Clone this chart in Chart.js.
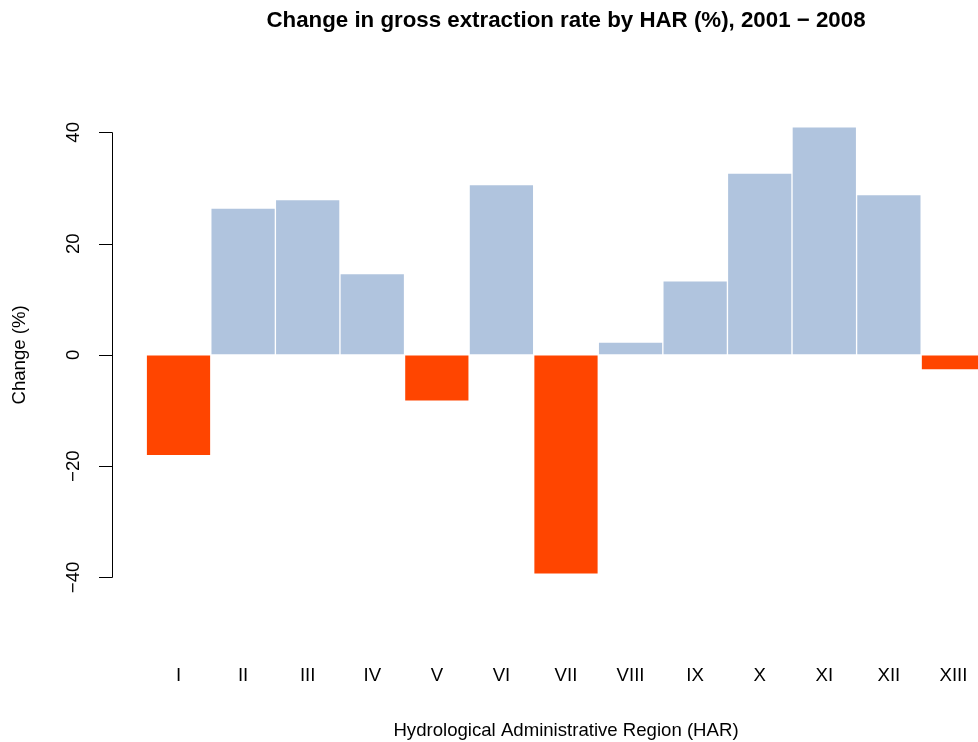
<!DOCTYPE html>
<html>
<head>
<meta charset="utf-8">
<script src="https://cdn.jsdelivr.net/npm/chart.js@4.4.0/dist/chart.umd.min.js"></script>
<style>
  html, body { margin: 0; padding: 0; background: #fff; overflow: hidden; }
  #wrap { width: 978px; height: 742px; }
</style>
</head>
<body>
<div id="wrap"><canvas id="chart" width="978" height="742"></canvas></div>
<script>
// regions and change values
const regions = ['I', 'II', 'III', 'IV', 'V', 'VI', 'VII', 'VIII', 'IX', 'X', 'XI', 'XII', 'XIII'];
const changes = [-18.1, 26.4, 27.9, 14.6, -8.3, 30.6, -39.4, 2.3, 13.3, 32.7, 41.0, 28.8, -2.7];
const yTicks = [-40, -20, 0, 20, 40];
const yTickLabels = ['\u221240', '\u221220', '0', '20', '40'];

const POS = 'lightsteelblue';
const NEG = 'orangered';
const FONT = '"Liberation Sans", Helvetica, Arial, sans-serif';

// draws the R style axes and titles on top of the bars
const rAxes = {
  id: 'rAxes',
  afterDraw(chart) {
    const ctx = chart.ctx;
    const x = chart.scales.x;
    const y = chart.scales.y;
    const axisX = chart.chartArea.left;
    ctx.save();
    ctx.strokeStyle = '#000';
    ctx.fillStyle = '#000';
    ctx.lineWidth = 1;

    // y axis line + ticks
    const yTop = y.getPixelForValue(yTicks[yTicks.length - 1]);
    const yBot = y.getPixelForValue(yTicks[0]);
    ctx.beginPath();
    ctx.moveTo(axisX + 0.5, Math.round(yTop) + 0.5);
    ctx.lineTo(axisX + 0.5, Math.round(yBot) + 0.5);
    yTicks.forEach(v => {
      const py = Math.round(y.getPixelForValue(v)) + 0.5;
      ctx.moveTo(axisX + 0.5, py);
      ctx.lineTo(axisX - 13, py);
    });
    ctx.stroke();

    // y tick labels, rotated like R's las=0
    ctx.font = '18.6px ' + FONT;
    ctx.textAlign = 'center';
    ctx.textBaseline = 'middle';
    yTicks.forEach((v, i) => {
      ctx.save();
      ctx.translate(74, y.getPixelForValue(v));
      ctx.rotate(-Math.PI / 2);
      ctx.fillText(yTickLabels[i], 0, 0);
      ctx.restore();
    });

    // category labels
    regions.forEach((r, i) => {
      ctx.fillText(r, x.getPixelForValue(i), 676);
    });

    // axis titles
    ctx.fillText('Hydrological Administrative Region (HAR)', 566, 731);
    ctx.save();
    ctx.translate(20, y.getPixelForValue(0));
    ctx.rotate(-Math.PI / 2);
    ctx.fillText('Change (%)', 0, 0);
    ctx.restore();

    // main title
    ctx.font = 'bold 22.3px ' + FONT;
    ctx.fillText('Change in gross extraction rate by HAR (%), 2001 \u2212 2008', 566, 21);
    ctx.restore();
  }
};

const ctx = document.getElementById('chart').getContext('2d');
new Chart(ctx, {
  type: 'bar',
  data: {
    datasets: [{
      data: changes.map((v, i) => ({ x: i, y: v })),
      backgroundColor: changes.map(v => (v < 0 ? NEG : POS)),
      borderColor: '#fff',
      borderWidth: 1,
      borderSkipped: false,
      barPercentage: 1,
      categoryPercentage: 1,
    }],
  },
  options: {
    responsive: false,
    animation: false,
    layout: { padding: { left: 112, right: 0, top: 109, bottom: 149 } },
    plugins: { legend: { display: false }, tooltip: { enabled: false }, title: { display: false } },
    scales: {
      x: {
        type: 'linear',
        display: false,
        offset: false,
        min: -1.03,
        max: 12.38,
      },
      y: {
        display: false,
        min: -42.8,
        max: 44.2,
      },
    },
  },
  plugins: [rAxes],
});
</script>
</body>
</html>
